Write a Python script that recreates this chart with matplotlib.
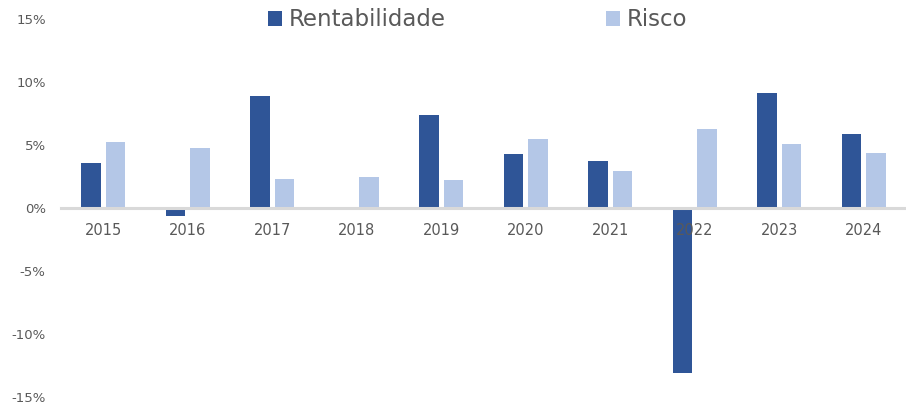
import matplotlib
matplotlib.use("Agg")
import matplotlib.pyplot as plt
import numpy as np
from matplotlib.ticker import FuncFormatter

years = ["2015", "2016", "2017", "2018", "2019", "2020", "2021", "2022", "2023", "2024"]
rentabilidade = [3.55, -0.6, 8.9, 0.0, 7.4, 4.3, 3.7, -13.1, 9.1, 5.85]
risco = [5.2, 4.8, 2.3, 2.45, 2.2, 5.5, 2.9, 6.3, 5.05, 4.35]
series_names = ["Rentabilidade", "Risco"]
yticks = [-15, -10, -5, 0, 5, 10, 15]

dark = "#2F5597"
light = "#B4C7E7"
gray = "#595959"

fig = plt.figure(figsize=(9.06, 4.05), dpi=100)
ax = fig.add_axes([61/906, 1-397/405, 1-61/906, (397-19)/405])

x = np.arange(len(years))
w = 0.235
off = 0.145
ax.bar(x - off, rentabilidade, w, color=dark, label=series_names[0], zorder=1)
ax.bar(x + off, risco, w, color=light, label=series_names[1], zorder=1)

ax.set_xlim(-0.5, len(years) - 0.5)
ax.set_ylim(-15, 15)
ax.set_yticks(yticks)
ax.yaxis.set_major_formatter(FuncFormatter(lambda v, p: f"{int(v)}%"))
ax.set_xticks(x)
ax.set_xticklabels(years)

for s in ["top", "right", "left"]:
    ax.spines[s].set_visible(False)
ax.spines["bottom"].set_position(("data", 0))
ax.spines["bottom"].set_color("#D9D9D9")
ax.spines["bottom"].set_linewidth(2.2)
ax.spines["bottom"].set_zorder(3)

ax.tick_params(axis="x", length=0, pad=11, labelsize=10.5, labelcolor=gray)
ax.tick_params(axis="y", length=0, pad=11, labelsize=9.5, labelcolor=gray)
for lbl in ax.get_xticklabels():
    lbl.set_zorder(5)

leg = fig.legend(loc="center", bbox_to_anchor=(478/906, 1-20/405), ncol=2,
                 frameon=False, fontsize=16.5, handlelength=0.6, handleheight=0.6,
                 handletextpad=0.3, columnspacing=7.0, labelcolor=gray)

fig.savefig("out.png", dpi=100)
